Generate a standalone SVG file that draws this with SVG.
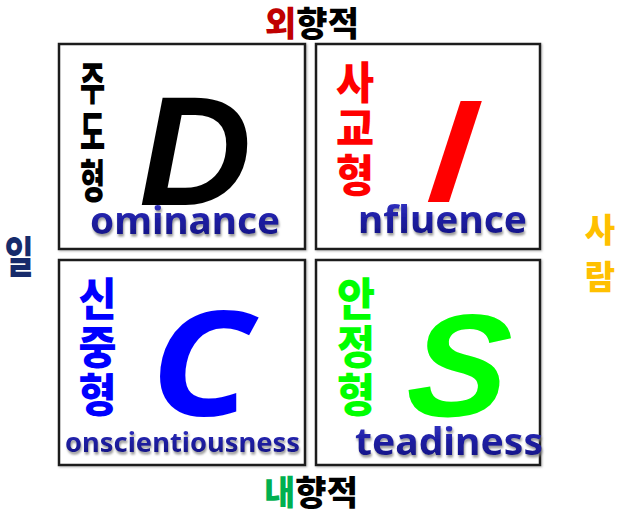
<svg xmlns="http://www.w3.org/2000/svg" width="625" height="515" viewBox="0 0 625 515">
<defs>
<linearGradient id="wg" x1="0" y1="0" x2="0" y2="1">
<stop offset="0" stop-color="#3c3cd0"/>
<stop offset="0.5" stop-color="#1e1ea2"/>
<stop offset="1" stop-color="#121278"/>
</linearGradient>
<filter id="sh" x="-10%" y="-20%" width="120%" height="160%">
<feDropShadow dx="1" dy="2.5" stdDeviation="1.2" flood-color="#777" flood-opacity="0.75"/>
</filter>
<filter id="bs" x="-5%" y="-5%" width="110%" height="110%">
<feDropShadow dx="1" dy="1" stdDeviation="1" flood-color="#888" flood-opacity="0.6"/>
</filter>
</defs>
<style>
.box{fill:#fff;stroke:#1a1a1a;stroke-width:2.5;filter:url(#bs)}
.ko{font-family:"Noto Sans CJK KR","Noto Sans",sans-serif;font-weight:900;text-anchor:middle}
.en{font-family:"Noto Sans","Open Sans",sans-serif;font-weight:bold;fill:url(#wg);filter:url(#sh)}
.big{font-family:"Open Sans","Noto Sans",sans-serif;font-weight:bold;font-style:italic}
.v{font-size:44px}
</style>
<rect width="625" height="515" fill="#fff"/>
<g id="axis-top"><text class="ko" x="312" y="36" font-size="34"><tspan fill="#c00000">외</tspan><tspan fill="#000">향적</tspan></text></g>
<g id="axis-bottom"><text class="ko" x="311" y="505" font-size="34"><tspan fill="#00b050">내</tspan><tspan fill="#000">향적</tspan></text></g>
<g id="axis-left"><text class="ko" transform="translate(19,273) scale(0.78,1.08)" x="0" y="0" font-size="40" fill="#172b6b">일</text></g>
<g id="axis-right" fill="#ffc000">
<text class="ko" x="600" y="242" font-size="33">사</text>
<text class="ko" x="600" y="289" font-size="33">람</text>
</g>
<g id="node-d">
<rect class="box" x="59" y="44" width="246" height="205"/>
<g transform="translate(92.5,62) scale(0.62,1.04)" fill="#000">
<text class="ko v" x="0" y="36.5">주</text>
<text class="ko v" x="0" y="83.5">도</text>
<text class="ko v" x="0" y="130.5">형</text>
</g>
<text x="139" y="205" font-family="'Liberation Sans',Arial,sans-serif" font-weight="bold" font-style="italic" font-size="156" fill="#000">D</text>
<text class="en" x="90" y="234" font-size="37" textLength="190" lengthAdjust="spacingAndGlyphs">ominance</text>
</g>
<g id="node-i">
<rect class="box" x="316" y="44" width="224" height="205"/>
<g transform="translate(355,62) scale(0.94,1.0)" fill="#ff0000">
<text class="ko v" x="0" y="36.5">사</text>
<text class="ko v" x="0" y="83.5">교</text>
<text class="ko v" x="0" y="130.5">형</text>
</g>
<text transform="translate(418,202) skewX(-18)" x="0" y="0" font-family="'Liberation Sans',Arial,sans-serif" font-weight="bold" font-size="147" fill="#ff0000">I</text>
<text class="en" x="358" y="233" font-size="37" textLength="169" lengthAdjust="spacingAndGlyphs">nfluence</text>
</g>
<g id="node-c">
<rect class="box" x="59" y="260" width="246" height="205"/>
<g transform="translate(97.5,278) scale(0.94,1.03)" fill="#0000ff">
<text class="ko v" x="0" y="36.5">신</text>
<text class="ko v" x="0" y="83.5">중</text>
<text class="ko v" x="0" y="130.5">형</text>
</g>
<text class="big" transform="translate(150,416) scale(1.15,1)" x="0" y="0" font-size="145" fill="#0000ff">C</text>
<text class="en" x="65" y="452" font-size="27" textLength="235" lengthAdjust="spacingAndGlyphs">onscientiousness</text>
</g>
<g id="node-s">
<rect class="box" x="316" y="260" width="224" height="205"/>
<g transform="translate(356,278) scale(0.94,1.03)" fill="#00ff00">
<text class="ko v" x="0" y="36.5">안</text>
<text class="ko v" x="0" y="83.5">정</text>
<text class="ko v" x="0" y="130.5">형</text>
</g>
<text transform="translate(404,416) skewX(-6) scale(1.03,1)" x="0" y="0" font-family="'Liberation Sans',Arial,sans-serif" font-weight="bold" font-style="italic" font-size="146" fill="#00ff00">S</text>
<text class="en" x="355" y="455" font-size="37" textLength="188" lengthAdjust="spacingAndGlyphs">teadiness</text>
</g>
<g id="connectors"></g>
</svg>
